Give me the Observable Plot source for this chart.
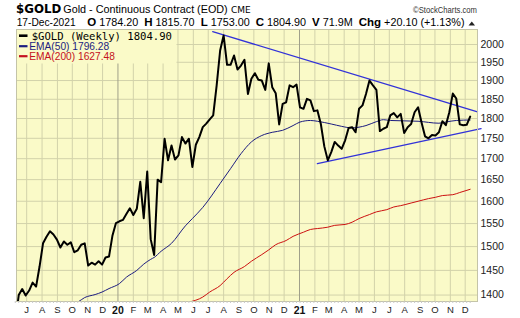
<!DOCTYPE html>
<html><head><meta charset="utf-8">
<script src="https://cdn.jsdelivr.net/npm/d3@7"></script>
<script src="https://cdn.jsdelivr.net/npm/@observablehq/plot@0.6"></script>
<style>
html,body{margin:0;padding:0;background:#fff;}
#wrap{width:520px;height:318px;overflow:hidden;}
</style></head><body><div id="wrap"></div>
<script>
// ---- data (weekly closes) ----
const startWeek = "2019-06-14";
const closes = [
 1345,1400,1412,1399,1409,1425,1417,1458,1507,1521,1533,1526,1515,1498,1511,1504,1509,1488,1492,1504,
 1507,1460,1466,1462,1469,1462,1477,1479,1524,1551,1555,1558,1571,1584,1569,1583,1645,1562,1669,1516,
 1482,1650,1644,1749,1696,1732,1698,1708,1753,1737,1749,1680,1734,1753,1778,1787,1798,1808,1887,1983,
 2026,1943,1943,1969,1930,1941,1957,1864,1905,1920,1902,1900,1875,1947,1882,1866,1785,1838,1842,1887,
 1882,1889,1829,1825,1851,1847,1819,1821,1786,1730,1696,1716,1741,1732,1724,1745,1776,1778,1765,1825,
 1834,1864,1900,1887,1875,1768,1774,1778,1808,1814,1803,1812,1763,1778,1786,1816,1829,1790,1755,1750,
 1758,1757,1765,1793,1783,1816,1865,1852,1785,1783,1784,1804.9
];
const ema50Weeks = [16,18,20,23,25,27,30,32,35,37,39,40,42,45,49,51,54,59,62,65,68,71,74,77,80,82,85,87,91,94,97,99,101,104,106,108,116,122,124,127,131];
const ema50Vals  = [1380,1386,1395,1401,1406,1413,1423,1436,1450,1463,1473,1477,1490,1507,1545,1561,1586,1641,1676,1712,1741,1757,1765,1770,1782,1791,1795,1793,1786,1780,1776,1778,1782,1792,1797,1795,1793,1788,1791,1795,1796.28];
const ema200Weeks = [50,54,56,59,61,63,66,68,71,73,75,78,80,83,85,87,90,92,95,97,99,102,104,107,109,111,114,116,119,121,123,126,128,131];
const ema200Vals  = [1386,1396,1406,1419,1433,1446,1458,1469,1483,1493,1504,1513,1522,1531,1537,1539,1542,1546,1548,1553,1561,1570,1576,1581,1587,1590,1596,1600,1606,1609,1613,1615,1620,1627.48];
const trendUpperDates = ["2020-07-16", "2021-12-31T19:00"];
const trendUpperVals  = [2037, 1817];
const trendLowerDates = ["2021-02-12", "2022-01-08"];
const trendLowerVals  = [1688, 1774];
const yTicks = [1400,1450,1500,1550,1600,1650,1700,1750,1800,1850,1900,1950,2000];
const monthStarts = ["2019-07-01","2019-08-01","2019-09-01","2019-10-01","2019-11-01","2019-12-01",
 "2020-01-01","2020-02-01","2020-03-01","2020-04-01","2020-05-01","2020-06-01","2020-07-01","2020-08-01",
 "2020-09-01","2020-10-01","2020-11-01","2020-12-01","2021-01-01","2021-02-01","2021-03-01","2021-04-01",
 "2021-05-01","2021-06-01","2021-07-01","2021-08-01","2021-09-01","2021-10-01","2021-11-01","2021-12-01"];
const monthLabels = ["J","A","S","O","N","D","20","F","M","A","M","J","J","A","S","O","N","D","21","F","M","A","M","J","J","A","S","O","N","D"];
const quoteLabels = ["O", "H", "L", "C", "V", "Chg"];
const quoteValues = ["1784.20", "1815.70", "1753.00", "1804.90", "71.9M", "+20.10 (+1.13%)"];

// ---- build tables ----
const t0 = new Date(startWeek + "T00:00Z");
const bars = closes.map((c, i) => ({date: d3.utcDay.offset(t0, 7 * i), close: c}));
const ema50 = ema50Weeks.map((w, i) => ({date: d3.utcDay.offset(t0, 7 * w), v: ema50Vals[i]}));
const ema200 = ema200Weeks.map((w, i) => ({date: d3.utcDay.offset(t0, 7 * w), v: ema200Vals[i]}));
const toDate = d => new Date(d + (d.includes("T") ? "Z" : "T00:00Z"));
const upper = trendUpperDates.map((d, i) => ({date: toDate(d), v: trendUpperVals[i]}));
const lower = trendLowerDates.map((d, i) => ({date: toDate(d), v: trendLowerVals[i]}));
const gridDates = monthStarts.map(s => d3.utcDay.offset(new Date(s + "T00:00Z"), 6));
const isYear = l => /^\d+$/.test(l);
const labelOf = new Map(gridDates.map((d, i) => [+d, monthLabels[i]]));
const monthGrid = gridDates.filter((d, i) => !isYear(monthLabels[i]));
const yearGrid = gridDates.filter((d, i) => isYear(monthLabels[i]));

const W = 520, H = 318, ML = 16, MR = 43, MT = 29, MB = 17;
const BG = "#fafac8";
const SANS = "Liberation Sans, Arial, sans-serif";

function legendBox() {
  const g = d3.create("svg:g");
  g.append("rect").attr("x", ML + 0.5).attr("y", MT + 0.5).attr("width", 160).attr("height", 34).attr("fill", BG);
  return g.node();
}
function legendText() {
  const g = d3.create("svg:g").attr("text-anchor", "start");
  const rows = [
    {c: "#000", txt: "$GOLD (Weekly) 1804.90", y: 40, mono: true, dash: 35.7, x: 31.7, w: 2.6},
    {c: "#1c1c80", txt: "EMA(50) 1796.28", y: 49.8, mono: false, dash: 46.2, x: 29.3, w: 2.2},
    {c: "#c41020", txt: "EMA(200) 1627.48", y: 59.8, mono: false, dash: 56.2, x: 29.3, w: 2.2}
  ];
  for (const r of rows) {
    g.append("line").attr("x1", 19).attr("x2", 27.5).attr("y1", r.dash).attr("y2", r.dash)
      .attr("stroke", r.c).attr("stroke-width", r.w);
    g.append("text").attr("x", r.x).attr("y", r.y).attr("fill", r.c).attr("text-anchor", "start")
      .attr("font-family", r.mono ? "DejaVu Sans Mono, monospace" : SANS)
      .attr("font-size", r.mono ? 10.6 : 10.2).text(r.txt);
  }
  return g.node();
}
function header() {
  const g = d3.create("svg:g").attr("fill", "#000").attr("text-anchor", "start");
  g.append("text").attr("x", 16).attr("y", 13.3).attr("font-family", "DejaVu Sans, sans-serif")
    .attr("font-weight", "bold").attr("font-size", 11.8).attr("text-anchor", "start").text("$GOLD");
  g.append("text").attr("x", 63.3).attr("y", 13.3).attr("font-family", SANS).attr("text-anchor", "start")
    .attr("font-size", 10.8).text("Gold - Continuous Contract (EOD)");
  g.append("text").attr("x", 231).attr("y", 13.3).attr("font-family", "DejaVu Sans, sans-serif").attr("text-anchor", "start")
    .attr("font-size", 9).text("CME");
  g.append("text").attr("x", 477).attr("y", 13).attr("text-anchor", "end").attr("fill", "#333")
    .attr("font-family", SANS).attr("font-size", 9.4)
    .attr("textLength", 64).attr("lengthAdjust", "spacingAndGlyphs").text("\u00A9StockCharts.com");
  const y2 = 26.3;
  g.append("text").attr("x", 16.7).attr("y", y2).attr("text-anchor", "start")
    .attr("font-family", SANS).attr("font-size", 10.2).text("17-Dec-2021");
  const q = g.append("text").attr("x", 87.3).attr("y", y2).attr("text-anchor", "start").attr("font-family", SANS);
  quoteLabels.forEach((lab, i) => {
    q.append("tspan").attr("dx", i === 0 ? 0 : 6).attr("font-weight", "bold").attr("font-size", 11.5).text(lab);
    q.append("tspan").attr("dx", 3).attr("font-size", 10.8).text(quoteValues[i]);
  });
  g.append("path").attr("d", "M468.5,25.5 L475,25.5 L471.75,21.5 Z").attr("fill", "#222");
  return g.node();
}

const chart = Plot.plot({
  width: W, height: H, marginLeft: ML, marginRight: MR, marginTop: MT, marginBottom: MB,
  style: {background: "#fff", fontFamily: SANS, overflow: "visible"},
  x: {type: "utc", domain: [new Date(Date.UTC(2019, 5, 16, 12)), new Date(Date.UTC(2021, 11, 31, 19))], axis: null},
  y: {type: "log", domain: [1387.2, 2043.2], axis: null},
  marks: [
    Plot.frame({fill: BG, stroke: null}),
    Plot.ruleY(yTicks, {stroke: "#d2d2aa", strokeWidth: 1}),
    Plot.ruleX(monthGrid, {stroke: "#d2d2aa", strokeWidth: 1}),
    Plot.ruleX(yearGrid, {stroke: "#a0a08a", strokeWidth: 1}),
    legendBox,
    Plot.line(ema200, {x: "date", y: "v", stroke: "#cc1010", strokeWidth: 1, curve: "monotone-x", clip: true}),
    Plot.line(ema50, {x: "date", y: "v", stroke: "#1c1c80", strokeWidth: 1, curve: "monotone-x", clip: true}),
    Plot.line(upper, {x: "date", y: "v", stroke: "#3232d8", strokeWidth: 1.3}),
    Plot.line(lower, {x: "date", y: "v", stroke: "#3232d8", strokeWidth: 1.3}),
    Plot.line(bars, {x: "date", y: "close", stroke: "#000", strokeWidth: 2, clip: true}),
    Plot.frame({stroke: "#c4c4a8", strokeWidth: 1}),
    Plot.axisY(yTicks, {anchor: "right", tickSize: 0, tickPadding: 3, fontSize: 10.5, tickFormat: d => String(d), label: null, fill: "#222"}),
    Plot.axisX(bars.map(d => d.date), {anchor: "bottom", tickSize: 2, tickFormat: () => "", stroke: "#c8c8c8", label: null}),
    Plot.axisX(monthGrid, {anchor: "bottom", tickSize: 0, tickPadding: 5, fontSize: 9.5, tickFormat: d => labelOf.get(+d), label: null, fill: "#222"}),
    Plot.axisX(yearGrid, {anchor: "bottom", tickSize: 0, tickPadding: 5, fontSize: 10.5, fontWeight: "bold", tickFormat: d => labelOf.get(+d), label: null, fill: "#111"}),
    legendText,
    header
  ]
});
document.getElementById("wrap").appendChild(chart);
</script>
</body></html>
